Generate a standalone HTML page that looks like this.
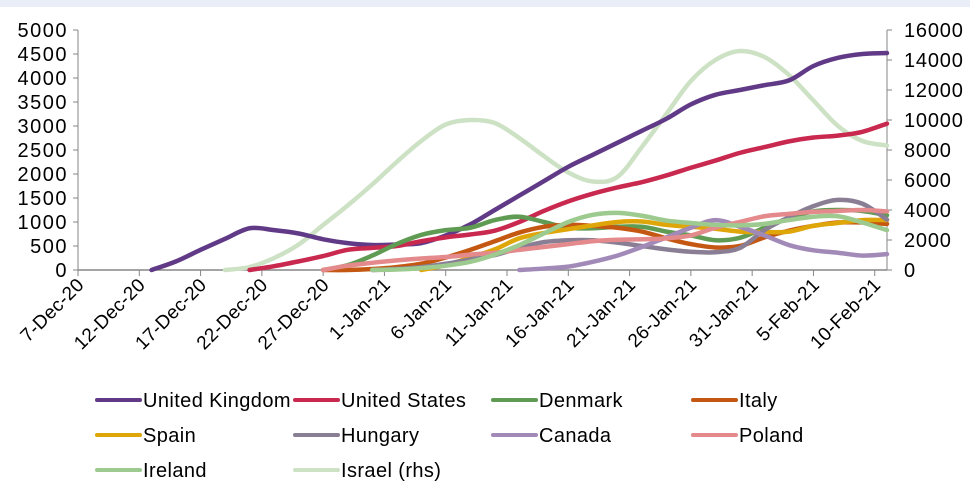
<!DOCTYPE html>
<html><head><meta charset="utf-8">
<style>
body{margin:0;width:970px;height:498px;background:#fff;font-family:"Liberation Sans",Arial,sans-serif;overflow:hidden}
#top{position:absolute;left:0;top:0;width:970px;height:7px;background:#e9eef8}
svg{position:absolute;left:0;top:0}
text{font-family:"Liberation Sans",Arial,sans-serif;fill:#000}
</style></head>
<body>
<div id="top"></div>
<svg id="chart" width="970" height="498"></svg>
<script>
const days = [0,2,4,6,8,10,12,14,16,18,20,22,24,26,28,30,32,34,36,38,40,42,44,46,48,50,52,54,56,58,60,62,64,66];
const tickLabels = ["7-Dec-20","12-Dec-20","17-Dec-20","22-Dec-20","27-Dec-20","1-Jan-21","6-Jan-21","11-Jan-21","16-Jan-21","21-Jan-21","26-Jan-21","31-Jan-21","5-Feb-21","10-Feb-21"];
const leftTicks = [0,500,1000,1500,2000,2500,3000,3500,4000,4500,5000];
const rightTicks = [0,2000,4000,6000,8000,10000,12000,14000,16000];
const N = null;
const ukValues = [N,N,N,0,180,420,650,870,830,760,640,560,520,530,560,720,950,1250,1550,1850,2150,2400,2650,2900,3150,3450,3650,3750,3850,3950,4250,4420,4500,4520];
const usValues = [N,N,N,N,N,N,N,0,80,180,290,420,460,500,600,680,740,820,1000,1230,1430,1590,1720,1830,1970,2130,2280,2440,2560,2680,2760,2800,2880,3050];
const denmarkValues = [N,N,N,N,N,N,N,N,N,N,0,100,300,540,730,830,880,1040,1110,1000,880,870,900,900,800,720,620,670,880,1080,1220,1250,1230,1140];
const italyValues = [N,N,N,N,N,N,N,N,N,N,0,0,20,60,130,260,420,600,780,900,940,920,880,800,660,540,470,500,680,820,920,990,990,960];
const spainValues = [N,N,N,N,N,N,N,N,N,N,N,N,N,N,0,100,260,430,660,770,850,930,1000,1010,940,900,860,800,790,800,920,980,1040,1040];
const hungaryValues = [N,N,N,N,N,N,N,N,N,N,N,N,0,20,60,130,220,310,460,580,620,620,570,500,430,380,370,460,830,1100,1330,1460,1380,1050];
const canadaValues = [N,N,N,N,N,N,N,N,N,N,N,N,N,N,N,N,N,N,0,30,70,170,300,480,680,880,1040,900,720,520,410,360,300,330];
const polandValues = [N,N,N,N,N,N,N,N,N,N,0,90,150,200,240,270,320,360,420,480,540,600,630,640,660,720,880,1000,1120,1170,1210,1230,1250,1220];
const irelandValues = [N,N,N,N,N,N,N,N,N,N,N,N,0,10,40,90,170,320,520,760,1000,1150,1190,1130,1030,980,940,930,960,1040,1110,1120,990,830];
const israelValues = [N,N,N,N,N,N,0,200,800,1700,3000,4300,5700,7200,8600,9700,10000,9800,8800,7600,6500,5900,6200,8200,10400,12600,14000,14600,14200,13000,11300,9600,8600,8300];

const series = [
 {name:"United Kingdom",key:"uk",vals:ukValues,color:"#613a87",rhs:false},
 {name:"United States",key:"us",vals:usValues,color:"#c9284f",rhs:false},
 {name:"Denmark",key:"denmark",vals:denmarkValues,color:"#5f9b53",rhs:false},
 {name:"Italy",key:"italy",vals:italyValues,color:"#c45812",rhs:false},
 {name:"Spain",key:"spain",vals:spainValues,color:"#dfa60a",rhs:false},
 {name:"Hungary",key:"hungary",vals:hungaryValues,color:"#8a7e94",rhs:false},
 {name:"Canada",key:"canada",vals:canadaValues,color:"#a28ab8",rhs:false},
 {name:"Poland",key:"poland",vals:polandValues,color:"#e48a8c",rhs:false},
 {name:"Ireland",key:"ireland",vals:irelandValues,color:"#9dca8e",rhs:false},
 {name:"Israel (rhs)",key:"israel",vals:israelValues,color:"#cde2c4",rhs:true}
];
const drawOrder = ["israel","uk","us","denmark","italy","spain","hungary","canada","poland","ireland"];

const X0=78, X1=887, Y0=270, Y1=30;
const xS = d => X0 + d*(X1-X0)/66;
const yL = v => Y0 - v*(Y0-Y1)/5000;
const yR = v => Y0 - v*(Y0-Y1)/16000;
const NS="http://www.w3.org/2000/svg";
const svg=document.getElementById('chart');
function mk(t,a,p){const e=document.createElementNS(NS,t);for(const k in a)e.setAttribute(k,a[k]);(p||svg).appendChild(e);return e;}

const ax=mk('g',{});


mk('line',{x1:X0,y1:Y1,x2:X0,y2:Y0,stroke:'#868686','stroke-width':1},ax);
mk('line',{x1:X1,y1:Y1,x2:X1,y2:Y0,stroke:'#868686','stroke-width':1},ax);
mk('line',{x1:X0,y1:Y0,x2:X1,y2:Y0,stroke:'#868686','stroke-width':1.5},ax);
leftTicks.forEach(v=>{
  const y=yL(v);
  mk('line',{x1:X0-5,y1:y,x2:X0,y2:y,stroke:'#868686'},ax);
  const t=mk('text',{x:X0-10,y:y+7,'text-anchor':'end','font-size':20,'letter-spacing':1.5},ax);
  t.textContent=v;
  
  
});
rightTicks.forEach(v=>{
  const y=yR(v);
  mk('line',{x1:X1,y1:y,x2:X1+5,y2:y,stroke:'#868686'},ax);
  const t=mk('text',{x:X1+17,y:y+7,'font-size':20,'letter-spacing':0.8},ax);
  t.textContent=v;
  
  
});
tickLabels.forEach((lab,i)=>{
  const x=xS(i*5);
  mk('line',{x1:x,y1:Y0,x2:x,y2:Y0+6,stroke:'#868686'},ax);
  const t=mk('text',{x:x+7,y:Y0+16,'text-anchor':'end','font-size':19,'letter-spacing':0.3,transform:`rotate(-45 ${x+7} ${Y0+16})`},ax);
  t.textContent=lab;
  
  
});

function smooth(pts){
  let d=`M${pts[0][0]},${pts[0][1]}`;
  for(let i=0;i<pts.length-1;i++){
    const p0=pts[i-1]||pts[i],p1=pts[i],p2=pts[i+1],p3=pts[i+2]||p2;
    const c1=[p1[0]+(p2[0]-p0[0])/6,p1[1]+(p2[1]-p0[1])/6];
    const c2=[p2[0]-(p3[0]-p1[0])/6,p2[1]-(p3[1]-p1[1])/6];
    d+=` C${c1[0]},${c1[1]} ${c2[0]},${c2[1]} ${p2[0]},${p2[1]}`;
  }
  return d;
}
drawOrder.forEach(k=>{
  const s=series.find(q=>q.key===k);
  const pts=[];
  s.vals.forEach((v,i)=>{if(v!==null)pts.push([xS(days[i]),(s.rhs?yR:yL)(v)]);});
  const p=mk('path',{d:smooth(pts),fill:'none',stroke:s.color,'stroke-width':4.5,'stroke-linejoin':'round','stroke-linecap':'round'});
  
  
});

const legX=[97,295,493,693], legY=[400,435,470];
const lg=mk('g',{});


series.forEach((s,i)=>{
  const x=legX[i%4], y=legY[Math.floor(i/4)];
  const g=mk('g',{},lg);
  
  
  mk('line',{x1:x,y1:y,x2:x+43,y2:y,stroke:s.color,'stroke-width':4,'stroke-linecap':'round'},g);
  const t=mk('text',{x:x+46,y:y+7,'font-size':20,'letter-spacing':0.4},g);
  t.textContent=s.name;
});
</script>
</body></html>
